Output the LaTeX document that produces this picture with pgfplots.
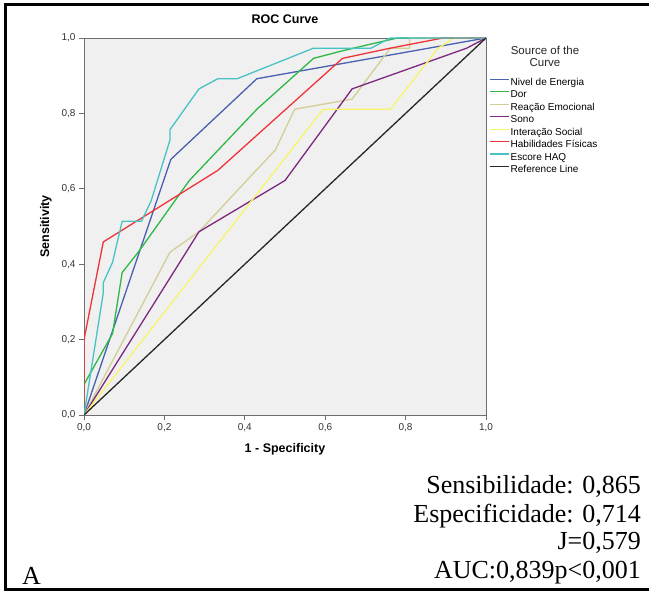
\documentclass[border=0pt]{standalone}
\usepackage{pgfplots}
\pgfplotsset{compat=1.18}
\usepackage{fontspec}
\setmainfont{Liberation Sans}
\newfontfamily\timesfont{Liberation Serif}

\definecolor{cEnergia}{HTML}{4A60B0}
\definecolor{cDor}{HTML}{2EB848}
\definecolor{cReacao}{HTML}{D3CE97}
\definecolor{cSono}{HTML}{7C287D}
\definecolor{cSocial}{HTML}{F8F46A}
\definecolor{cFisicas}{HTML}{EF3338}
\definecolor{cHAQ}{HTML}{48C2C5}
\definecolor{axisgray}{HTML}{6E6E6E}

\begin{document}
\begin{tikzpicture}[x=1pt,y=1pt]
\path[use as bounding box] (0,0) rectangle (649,594);
% outer frame
\draw[line width=3pt] (652,589) -- (5,589) -- (5,4) -- (652,4);

\begin{axis}[
    at={(84pt,179pt)}, anchor=south west,
    scale only axis,
    width=402pt, height=377pt,
    xmin=0, xmax=1, ymin=0, ymax=1,
    xtick={0,0.2,...,1}, ytick={0,0.2,...,1},
    xtick pos=bottom, ytick pos=left,
    tick align=outside,
    major tick length=5pt,
    every tick/.style={axisgray, line width=0.8pt},
    axis line style={axisgray, line width=0.9pt},
    axis background/.style={fill=black!6},
    tick label style={font=\fontsize{10}{12}\selectfont, text=black!80},
    /pgf/number format/use comma,
    /pgf/number format/fixed,
    /pgf/number format/fixed zerofill,
    /pgf/number format/precision=1,
    /pgf/number format/assume math mode=true,
    title={ROC Curve},
    title style={at={(axis description cs:0.5,1.0345)}, anchor=center, font=\bfseries\fontsize{12.5}{14}\selectfont},
    xlabel={1 - Specificity},
    xlabel style={at={(axis description cs:0.5,-0.0902)}, anchor=center, font=\bfseries\fontsize{12.5}{14}\selectfont},
    ylabel={Sensitivity},
    ylabel style={at={(axis description cs:-0.0945,0.5)}, anchor=center, font=\bfseries\fontsize{12.5}{14}\selectfont},
    legend style={at={(1.0075,0.8945)}, anchor=north west, draw=none, fill=none,
        inner sep=0pt, outer sep=0pt, row sep=2.47pt, column sep=0pt,
        font=\fontsize{10}{12}\selectfont,
        nodes={inner xsep=1.5pt, inner ysep=0pt, text height=7.5pt, text depth=2.5pt}},
    legend cell align=left,
    legend image code/.code={\draw[#1, line width=1.2pt] (0pt,3.5pt) -- (19pt,3.5pt);},
    every axis plot/.append style={line width=1.3pt, line join=round},
]
\addplot[cEnergia] coordinates {
    (0,0) (0.216,0.678) (0.430,0.892) (1,1)
};
\addlegendentry{Nivel de Energia}

\addplot[cDor] coordinates {
    (0,0) (0,0.081) (0.071,0.216) (0.095,0.378) (0.135,0.432) (0.262,0.622)
    (0.430,0.811) (0.571,0.946) (0.643,0.966) (0.714,0.984) (0.780,1) (1,1)
};
\addlegendentry{Dor}

\addplot[cReacao] coordinates {
    (0,0) (0.214,0.432) (0.286,0.486) (0.381,0.595) (0.476,0.703) (0.524,0.811)
    (0.667,0.838) (0.762,0.973) (0.810,0.973) (0.810,1) (1,1)
};
\addlegendentry{Reação Emocional}

\addplot[cSono] coordinates {
    (0,0) (0.286,0.486) (0.500,0.622) (0.667,0.865) (0.952,0.973) (1,1)
};
\addlegendentry{Sono}

\addplot[cSocial] coordinates {
    (0,0) (0.595,0.811) (0.762,0.811) (0.881,0.973) (0.920,1) (1,1)
};
\addlegendentry{Interação Social}

\addplot[cFisicas] coordinates {
    (0,0) (0,0.200) (0.048,0.459) (0.333,0.649) (0.643,0.946) (0.762,0.973)
    (0.893,1) (1,1)
};
\addlegendentry{Habilidades Físicas}

\addplot[cHAQ] coordinates {
    (0,0) (0.024,0.162) (0.048,0.324) (0.048,0.351) (0.071,0.405) (0.095,0.514)
    (0.143,0.514) (0.167,0.568) (0.214,0.730) (0.214,0.757) (0.286,0.865)
    (0.333,0.892) (0.381,0.892) (0.571,0.973) (0.714,0.973) (0.762,1) (1,1)
};
\addlegendentry{Escore HAQ}

\addplot[black!85] coordinates {(0,0) (1,1)};
\addlegendentry{Reference Line}
\end{axis}

% legend title
\node[align=center, font=\fontsize{11.5}{12}\selectfont, text=black!85] at (545,538) {Source of the\\Curve};

% annotation text
\begin{scope}[font=\timesfont\fontsize{26}{28}\selectfont]
\node[anchor=base east, inner sep=0pt] at (641,100) {Sensibilidade: 0,865};
\node[anchor=base east, inner sep=0pt] at (641,71) {Especificidade: 0,714};
\node[anchor=base east, inner sep=0pt] at (641,44) {J=0,579};
\node[anchor=base east, inner sep=0pt] at (641,15) {AUC:0,839p<0,001};
\node[anchor=base west, inner sep=0pt] at (22,9) {A};
\end{scope}
\end{tikzpicture}
\end{document}
